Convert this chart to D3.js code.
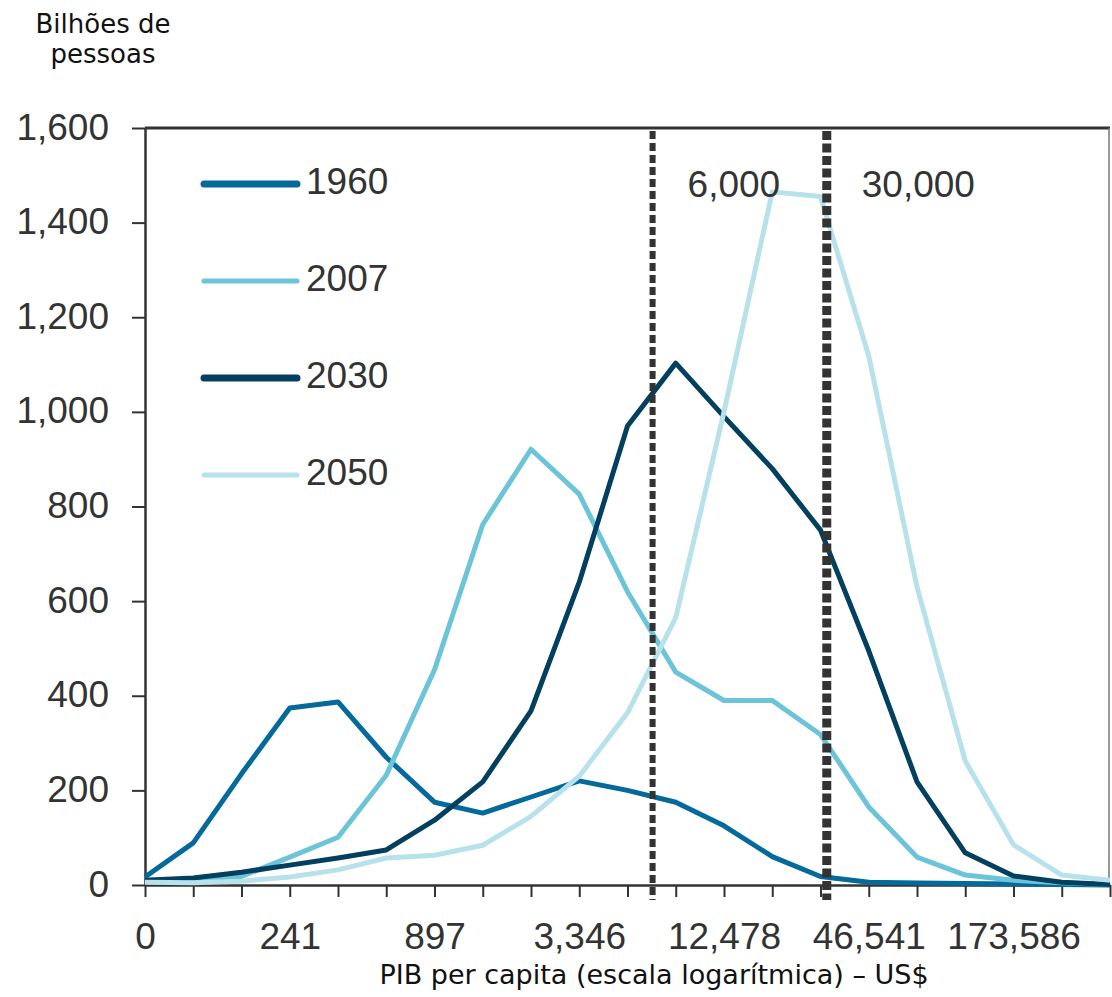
<!DOCTYPE html>
<html>
<head>
<meta charset="utf-8">
<script src="https://cdn.jsdelivr.net/npm/d3@7"></script>
<style>
  body { margin: 0; background: #fff; }
  svg { display: block; }
</style>
</head>
<body>
<script>

const w = 1112;
const h = 997;

// bins of GDP per capita (log scale), 21 points, labelled every 3rd bin
const bins = d3.range(21);
const xLabels = ["0", "", "", "241", "", "", "897", "", "", "3,346", "", "", "12,478", "", "", "46,541", "", "", "173,586", "", ""];

const yTicks = [0, 200, 400, 600, 800, 1000, 1200, 1400, 1600];

const years = ["1960", "2007", "2030", "2050"];
const colors = ["#04699b", "#6cc4d9", "#033f5f", "#b7e2eb"];

// billions of people (chart values)
const s1960 = [17, 89, 235, 374, 387, 270, 175, 152, 186, 220, 200, 175, 125, 60, 18, 6, 4, 3, 2, 1, 0];
const s2007 = [10, 10, 18, 59, 101, 232, 455, 762, 921, 826, 620, 450, 390, 390, 318, 165, 59, 21, 10, 5, 1];
const s2030 = [10, 15, 27, 42, 57, 74, 137, 218, 368, 640, 970, 1103, 990, 880, 750, 495, 218, 68, 19, 6, 1];
const s2050 = [6, 5, 8, 17, 32, 57, 63, 84, 145, 230, 364, 565, 1000, 1465, 1455, 1118, 630, 262, 85, 21, 10];

const series = [s1960, s2007, s2030, s2050];

// threshold markers, position in bins
const markerPos = [10.52, 14.13];
const markerLabels = ["6,000", "30,000"];

let svg = d3.select("body")
    .append("svg")
    .attr("width", w)
    .attr("height", h)

let x = d3.scaleLinear().domain([0, 20]).range([145, 1110]);
let y = d3.scaleLinear().domain([0, 1600]).range([885, 128]);

const tickFont = "'Liberation Sans', Arial, sans-serif";

// y axis
let yAxis = svg.append("g")
    .attr("transform", "translate(" + x(0) + ",0)")
    .call(d3.axisLeft(y).tickValues(yTicks).tickFormat(d3.format(",")).tickSize(13).tickSizeOuter(0).tickPadding(23));
yAxis.select(".domain").attr("stroke", "#333").attr("stroke-width", 2.5);
yAxis.selectAll(".tick line").attr("stroke", "#333").attr("stroke-width", 2);
yAxis.selectAll(".tick text")
    .attr("font-family", tickFont)
    .attr("font-size", 37)
    .attr("fill", "#333")
    .attr("dy", "0.3em");

// x axis
let xAxis = svg.append("g")
    .attr("transform", "translate(0," + y(0) + ")")
    .call(d3.axisBottom(x).tickValues(bins).tickFormat(d => xLabels[d]).tickSize(12).tickSizeOuter(0).tickPadding(26));
xAxis.select(".domain").attr("stroke", "#333").attr("stroke-width", 2.5);
xAxis.selectAll(".tick line").attr("stroke", "#333").attr("stroke-width", 2);
xAxis.selectAll(".tick text")
    .attr("font-family", tickFont)
    .attr("font-size", 37)
    .attr("fill", "#333")
    .attr("dy", "0.71em");

// frame top and right
svg.append("line")
    .attr("x1", x(0)).attr("x2", x(20))
    .attr("y1", y(1600)).attr("y2", y(1600))
    .attr("stroke", "#333").attr("stroke-width", 3);
svg.append("line")
    .attr("x1", x(20) - 1).attr("x2", x(20) - 1)
    .attr("y1", y(1600)).attr("y2", y(0))
    .attr("stroke", "#777").attr("stroke-width", 1.5);

// lines
let line = d3.line()
    .x((d, i) => x(bins[i]))
    .y(d => y(d));

svg.append("g")
    .selectAll("path")
    .data(series)
    .enter()
    .append("path")
    .attr("d", line)
    .attr("fill", "none")
    .attr("stroke", (d, i) => colors[i])
    .attr("stroke-width", 5)
    .attr("stroke-linejoin", "round");

// dashed markers
let mk = svg.append("g");
mk.selectAll("line")
    .data(markerPos)
    .enter()
    .append("line")
    .attr("x1", d => x(d)).attr("x2", d => x(d))
    .attr("y1", y(1600) + 3).attr("y2", y(0) + 15)
    .attr("stroke", "#333")
    .attr("stroke-width", (d, i) => i == 0 ? 6 : 9)
    .attr("stroke-dasharray", (d, i) => i == 0 ? "8,4" : "9,3.5");
mk.selectAll("text")
    .data(markerLabels)
    .enter()
    .append("text")
    .attr("x", (d, i) => x(markerPos[i]) + 35)
    .attr("y", 197)
    .attr("font-family", tickFont)
    .attr("font-size", 37)
    .attr("fill", "#333")
    .text(d => d);

// legend
let leg = svg.append("g")
    .selectAll("g")
    .data(years)
    .enter()
    .append("g")
    .attr("transform", (d, i) => "translate(0," + (184 + i * 97) + ")");
leg.append("line")
    .attr("x1", 204).attr("x2", 297)
    .attr("y1", 0).attr("y2", 0)
    .attr("stroke", (d, i) => colors[i])
    .attr("stroke-width", (d, i) => i % 2 == 0 ? 7 : 5)
    .attr("stroke-linecap", "round");
leg.append("text")
    .attr("x", 306)
    .attr("y", 10)
    .attr("font-family", tickFont)
    .attr("font-size", 37)
    .attr("fill", "#333")
    .text(d => d);

// axis titles
const labelFont = "'DejaVu Sans', Verdana, sans-serif";
svg.append("text")
    .attr("x", 103).attr("y", 33)
    .attr("text-anchor", "middle")
    .attr("font-family", labelFont)
    .attr("font-size", 26)
    .attr("fill", "#111")
    .text("Bilhões de");
svg.append("text")
    .attr("x", 103).attr("y", 63)
    .attr("text-anchor", "middle")
    .attr("font-family", labelFont)
    .attr("font-size", 26)
    .attr("fill", "#111")
    .text("pessoas");
svg.append("text")
    .attr("x", 654).attr("y", 984)
    .attr("text-anchor", "middle")
    .attr("font-family", labelFont)
    .attr("font-size", 27)
    .attr("fill", "#111")
    .text("PIB per capita (escala logarítmica) – US$");

</script>
</body>
</html>
